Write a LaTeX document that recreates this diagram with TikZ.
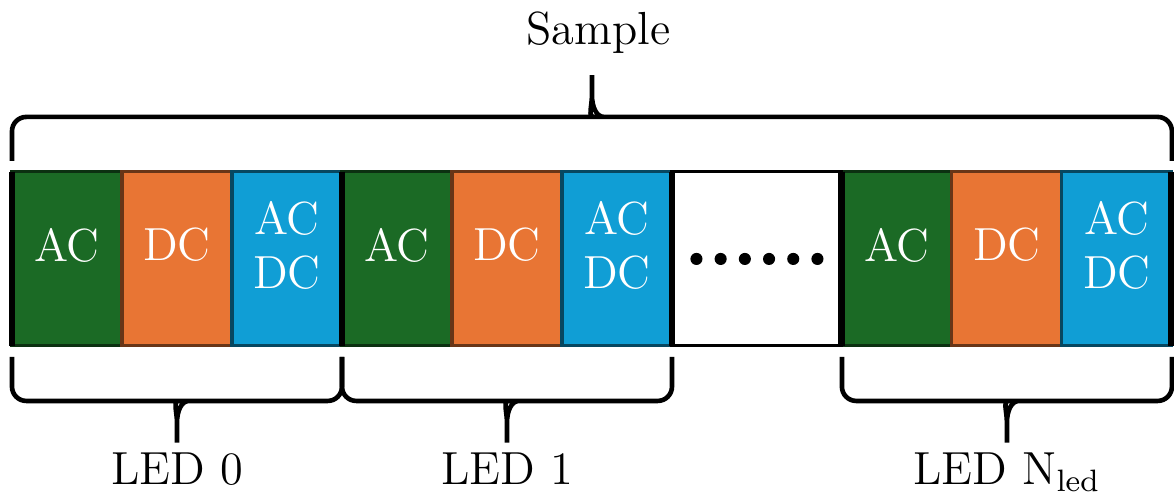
\documentclass[tikz,border=0pt]{standalone}
\usetikzlibrary{positioning,calc}

\definecolor{acgreen}{RGB}{27,106,37}
\definecolor{dcorange}{RGB}{232,117,52}
\definecolor{mixblue}{RGB}{16,158,213}

\tikzset{
  cell/.style={draw, thick, minimum width=1cm, minimum height=1.582cm,
    inner sep=0pt, outer sep=0pt, text=white, font=\large, align=center,
    text depth=0.26cm},
  acbox/.style={cell, fill=acgreen, draw=acgreen!45!black},
  dcbox/.style={cell, fill=dcorange, draw=dcorange!45!black},
  mixbox/.style={cell, fill=mixblue, draw=mixblue!45!black},
  grpline/.style={line width=1.8pt},
  lbl/.style={font=\large},
  brc/.style={very thick, to path={
    let \p1=(\tikztostart), \p2=(\tikztotarget), \p3=($(\p1)!0.5!(\p2)$) in
    [rounded corners=1.3mm] (\p1) -- (\x1,{\y1+(#1)*4mm}) -- (\x3-1.1mm,{\y1+(#1)*4mm})
    [sharp corners] .. controls (\x3-0.4mm,{\y1+(#1)*4mm}) and (\x3,{\y1+(#1)*4.9mm})
      .. (\x3,{\y1+(#1)*6mm}) -- (\x3,{\y1+(#1)*7.8mm})
    (\x3,{\y1+(#1)*6mm}) .. controls (\x3,{\y1+(#1)*4.9mm}) and (\x3+0.4mm,{\y1+(#1)*4mm})
      .. (\x3+1.1mm,{\y1+(#1)*4mm})
    [rounded corners=1.3mm] -- (\x2,{\y1+(#1)*4mm}) -- (\p2)}}
}

\begin{document}
\begin{tikzpicture}
  \useasboundingbox (-0.109,-1.427) rectangle (10.564,3.145);
  % one AC / DC / AC-DC triple per LED
  \foreach \g/\x in {0/0, 1/3, 2/7.545} {
    \node[acbox] (ac\g) at (\x+0.5,0.791) {AC};
    \node[dcbox, right=0pt of ac\g] (dc\g) {DC};
    \node[mixbox, right=0pt of dc\g] (acdc\g) {AC\\DC};
  }
  \node[draw, thick, fill=white, minimum width=1.545cm, minimum height=1.582cm,
    inner sep=0pt, outer sep=0pt, right=0pt of acdc1] (gap) {};
  \foreach \i in {0,...,5}
    \fill ($(gap.center)+(\i*0.22-0.55,0)$) circle (0.055);

  \foreach \n in {ac0, ac1, gap, ac2}
    \draw[grpline] (\n.north west) -- (\n.south west);
  \draw[grpline] (gap.north east) -- (gap.south east);
  \draw[grpline] (acdc2.north east) -- (acdc2.south east);

  % braces
  \draw[brc=1] ([yshift=1mm]ac0.north west) to ([yshift=1mm]acdc2.north east);
  \node[lbl, above] (sample) at (5.33,2.53) {Sample};
  \foreach \g/\t in {0/{LED 0}, 1/{LED 1}, 2/{LED N\textsubscript{led}}} {
    \draw[brc=-1] ([yshift=-1mm]ac\g.south west) to ([yshift=-1mm]acdc\g.south east);
    \node[lbl, below=8.5mm of dc\g] (led\g) {\t};
  }
\end{tikzpicture}
\end{document}
